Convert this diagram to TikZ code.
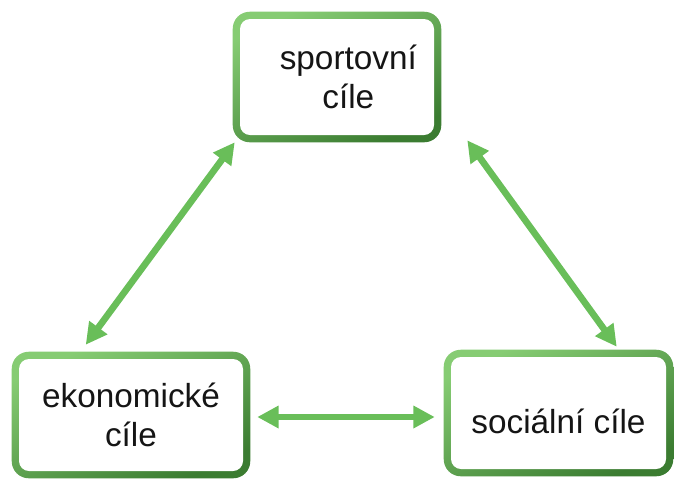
\documentclass[tikz,border=0pt]{standalone}
\usepackage{fontspec}
\setmainfont{Liberation Sans}
\usetikzlibrary{arrows.meta,calc,backgrounds}

\definecolor{frameLight}{HTML}{86CC73}
\definecolor{frameDark}{HTML}{3B7C31}
\definecolor{arrowGreen}{HTML}{69BE59}
\definecolor{textInk}{HTML}{151515}

\tikzset{
  goal/.style={fill=white, rounded corners=7.5pt, align=center, inner sep=0pt,
    font=\fontsize{25}{29}\selectfont, text=textInk},
  frame/.style={rounded corners=12.75pt, top color=frameLight, bottom color=frameDark,
    shading angle=25},
  link/.style={draw=arrowGreen, line width=5pt,
    {Triangle[length=16pt,width=16pt]}-{Triangle[length=16pt,width=16pt]}}
}

\begin{document}
\begin{tikzpicture}[x=0.75pt,y=-0.75pt]
\useasboundingbox (0,0) rectangle (674,480);

% the three goals
\node[goal, minimum width=145.5pt, minimum height=87pt] (sport) at (337,77)
  {\hspace*{17pt}sportovní\\\hspace*{17pt}cíle};
\node[goal, minimum width=168pt, minimum height=84pt] (eko) at (131,415)
  {ekonomické\\cíle};
\node[goal, minimum width=161.25pt, minimum height=84pt] (soc) at (558.5,413)
  {\raisebox{-6pt}[\height][\depth]{sociální cíle}};

% green frames behind the white boxes
\begin{scope}[on background layer]
  \foreach \n in {sport,eko,soc}
    \shade[frame] ($(\n.south west)+(-7,7)$) rectangle ($(\n.north east)+(7,-7)$);
\end{scope}

% arrow ends
\coordinate (sportL) at ($(sport.south west)+(-5,7)$);
\coordinate (sportR) at ($(sport.south east)+(33,5)$);
\coordinate (ekoT)   at ($(eko.north west)+(67,-14)$);
\coordinate (ekoR)   at ($(eko.east)+(14,2)$);
\coordinate (socT)   at ($(soc.north west)+(166,-10)$);
\coordinate (socL)   at ($(soc.west)+(-16,4)$);

% two-way links
\draw[link] (ekoT) -- (sportL);
\draw[link] (sportR) -- (socT);
\draw[link] (ekoR) -- (socL);
\end{tikzpicture}
\end{document}
